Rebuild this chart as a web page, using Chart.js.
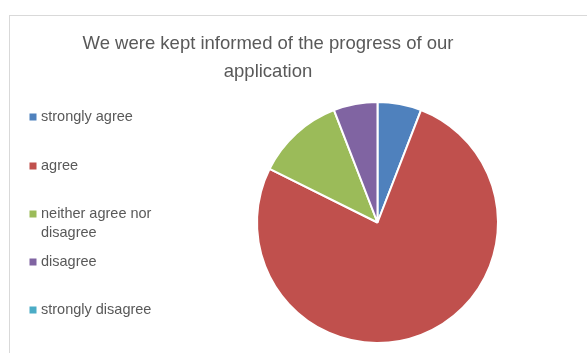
<!DOCTYPE html>
<html>
<head>
<meta charset="utf-8">
<script src="https://cdn.jsdelivr.net/npm/chart.js@4"></script>
<style>
  html, body { margin: 0; padding: 0; background: #fff; }
  #wrap { width: 587px; height: 353px; }
</style>
</head>
<body>
<div id="wrap"><canvas id="myChart" width="587" height="353"></canvas></div>
<script>
// dados
const titulo = ["We were kept informed of the progress of our", "application"];
const categorias = ["strongly agree", "agree", "neither agree nor disagree", "disagree", "strongly disagree"];
const respostas = [1, 13, 2, 1, 0];
const cores = ["#4F81BD", "#C0504D", "#9BBB59", "#8064A2", "#4BACC6"];

// linhas da legenda (quebra como no Excel)
const legendaLinhas = [["strongly agree"], ["agree"], ["neither agree nor", "disagree"], ["disagree"], ["strongly disagree"]];
const legendaY = [117, 166, 214, 262, 310];

const fonte = "'Liberation Sans', sans-serif";

// moldura, título e legenda desenhados à mão
const extras = {
  id: "extras",
  beforeDraw(chart) {
    const ctx = chart.ctx;
    ctx.save();
    ctx.fillStyle = "#fff";
    ctx.fillRect(0, 0, chart.width, chart.height);
    ctx.strokeStyle = "#d9d9d9";
    ctx.lineWidth = 1;
    ctx.strokeRect(9.5, 15.5, 700, 500);
    ctx.restore();
  },
  afterDraw(chart) {
    const ctx = chart.ctx;
    ctx.save();
    ctx.fillStyle = "#595959";
    ctx.textAlign = "center";
    ctx.textBaseline = "alphabetic";
    ctx.font = "18.5px " + fonte;
    ctx.fillText(titulo[0], 268, 49);
    ctx.fillText(titulo[1], 268, 77);

    ctx.textAlign = "left";
    ctx.textBaseline = "middle";
    ctx.font = "14.5px " + fonte;
    legendaLinhas.forEach((linhas, i) => {
      const y = legendaY[i];
      ctx.fillStyle = chart.data.datasets[0].backgroundColor[i];
      ctx.fillRect(29.5, y - 3.5, 7, 7);
      ctx.fillStyle = "#595959";
      linhas.forEach((t, j) => ctx.fillText(t, 41, y + j * 19));
    });
    ctx.restore();
  }
};

new Chart("myChart", {
  type: "pie",
  data: {
    labels: categorias,
    datasets: [{
      data: respostas,
      backgroundColor: cores,
      borderColor: "#fff",
      borderWidth: 2
    }]
  },
  options: {
    responsive: false,
    animation: false,
    layout: { padding: { left: 256, right: 88, top: 101, bottom: 9 } },
    plugins: {
      legend: { display: false },
      tooltip: { enabled: false }
    }
  },
  plugins: [extras]
});
</script>
</body>
</html>
